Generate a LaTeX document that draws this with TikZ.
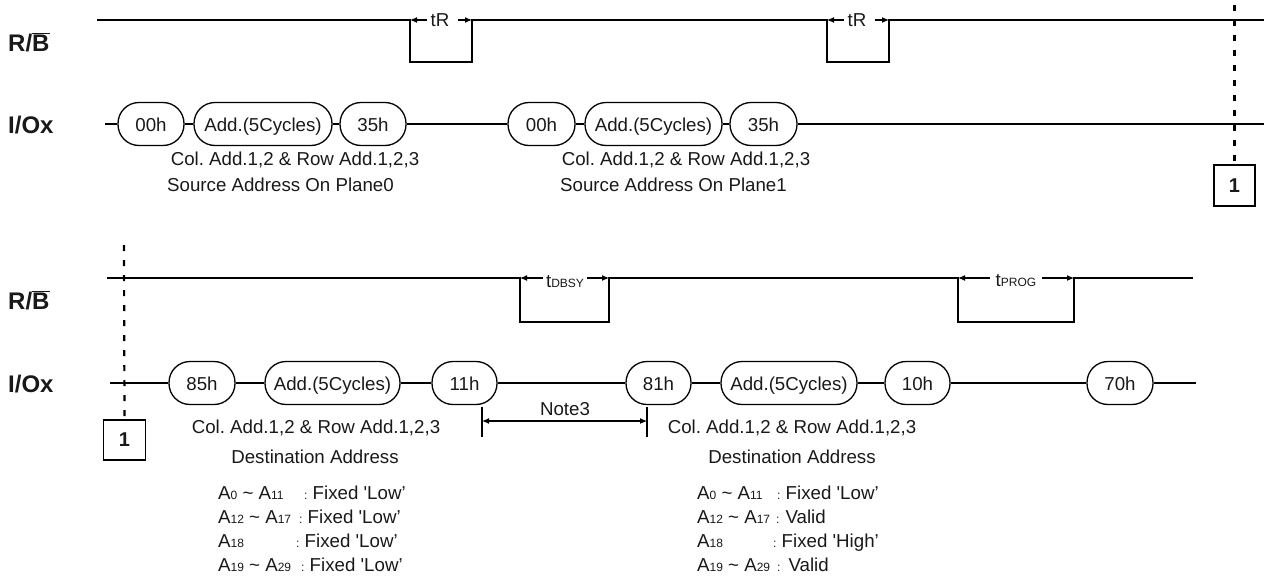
\documentclass[tikz,border=0pt]{standalone}
\usepackage{fontspec}
\setmainfont{Liberation Sans}
\usetikzlibrary{arrows.meta}
\newcommand\sbs[1]{{\fontsize{12}{12}\selectfont #1}}
\newcommand\sq{\textquotesingle}
\begin{document}
\frenchspacing
\begin{tikzpicture}[x=1pt,y=-1pt,
  every node/.style={font=\fontsize{18.7}{22}\selectfont, inner sep=0pt, text=black!90},
  oval/.style={draw, line width=1.3pt, rounded corners=21pt, minimum height=43pt, inner sep=0pt, text height=15pt, text depth=1pt},
  wire/.style={line width=1.3pt},
  sig/.style={font=\bfseries\fontsize{24}{26}\selectfont, anchor=west},
  tlbl/.style={inner xsep=3pt},
  tarrow/.style={line width=1.1pt, -{Latex[length=7pt,width=6pt]}},
  guide/.style={line width=2.2pt, dash pattern=on 6pt off 9pt},
  pagebox/.style={draw, line width=1.3pt, minimum width=41pt, minimum height=41pt, font=\bfseries\fontsize{20}{22}\selectfont},
  addr/.style={anchor=base west}
]
\useasboundingbox (0,0) rectangle (1264,581);

% ---------------- top section ----------------
\node[sig] (rb1) at (8,42) {R/$\overline{\mbox{B}}$};
\node[sig] (io1) at (8,125) {I/Ox};

% R/B waveform
\coordinate (t0) at (97,20);
\coordinate (t1) at (410,20);
\coordinate (t2) at (410,62);
\coordinate (t3) at (472,62);
\coordinate (t4) at (472,20);
\coordinate (t5) at (827,20);
\coordinate (t6) at (827,62);
\coordinate (t7) at (889,62);
\coordinate (t8) at (889,20);
\coordinate (t9) at (1264,20);
\draw[wire] (t0) -- (t1) -- (t2) -- (t3) -- (t4) -- (t5) -- (t6) -- (t7) -- (t8) -- (t9);

\node[tlbl] (tr1) at (440,20) {tR};
\draw[tarrow] (tr1.west) -- (t1);
\draw[tarrow] ([xshift=5pt]tr1.east) -- (t4);
\node[tlbl] (tr2) at (857,20) {tR};
\draw[tarrow] (tr2.west) -- (t5);
\draw[tarrow] ([xshift=5pt]tr2.east) -- (t8);

% I/O bus
\coordinate (ia) at (105,124);
\coordinate (ib) at (1264,124);
\node[oval, minimum width=66pt]  (o1) at (151,124)   {00h};
\node[oval, minimum width=138pt] (o2) at (263,124)   {Add.(5Cycles)};
\node[oval, minimum width=66pt]  (o3) at (373,124)   {35h};
\node[oval, minimum width=67pt]  (o4) at (541.5,124) {00h};
\node[oval, minimum width=137pt] (o5) at (653.5,124) {Add.(5Cycles)};
\node[oval, minimum width=67pt]  (o6) at (763.5,124) {35h};
\draw[wire] (ia) -- (o1.west);
\draw[wire] (o1.east) -- (o2.west);
\draw[wire] (o2.east) -- (o3.west);
\draw[wire] (o3.east) -- (o4.west);
\draw[wire] (o4.east) -- (o5.west);
\draw[wire] (o5.east) -- (o6.west);
\draw[wire] (o6.east) -- (ib);

\node (c1) at (295,160) {Col. Add.1,2 \& Row Add.1,2,3};
\node[anchor=west] (s1) at (167,185) {Source Address On Plane0};
\node (c2) at (686,160) {Col. Add.1,2 \& Row Add.1,2,3};
\node[anchor=west] (s2) at (560,185) {Source Address On Plane1};

% continuation marker
\coordinate (g1) at (1234.5,5);
\node[pagebox] (pb1) at (1234.5,185.5) {1};
\draw[guide] (g1) -- (pb1.north);

% ---------------- bottom section ----------------
\node[sig] (rb2) at (8,300) {R/$\overline{\mbox{B}}$};
\node[sig] (io2) at (8,384) {I/Ox};

\coordinate (b0) at (107,278);
\coordinate (b1) at (520,278);
\coordinate (b2) at (520,322);
\coordinate (b3) at (609,322);
\coordinate (b4) at (609,278);
\coordinate (b5) at (958,278);
\coordinate (b6) at (958,322);
\coordinate (b7) at (1074,322);
\coordinate (b8) at (1074,278);
\coordinate (b9) at (1193,278);
\draw[wire] (b0) -- (b1) -- (b2) -- (b3) -- (b4) -- (b5) -- (b6) -- (b7) -- (b8) -- (b9);

\node[tlbl] (tdb) at (565,282) {t\sbs{DBSY}};
\draw[tarrow] (tdb.west |- b1) -- (b1);
\draw[tarrow] (tdb.east |- b4) -- (b4);
\node[tlbl] (tpg) at (1016,281) {t\sbs{PROG}};
\draw[tarrow] ([xshift=-3pt]tpg.west |- b5) -- (b5);
\draw[tarrow] ([xshift=3pt]tpg.east |- b8) -- (b8);

\coordinate (ja) at (110,383);
\coordinate (jb) at (1196,383);
\node[oval, minimum width=66pt]  (p1) at (202,383)   {85h};
\node[oval, minimum width=135pt] (p2) at (332.5,383) {Add.(5Cycles)};
\node[oval, minimum width=65pt]  (p3) at (464.5,383) {11h};
\node[oval, minimum width=65pt]  (p4) at (658.5,383) {81h};
\node[oval, minimum width=136pt] (p5) at (789,383)   {Add.(5Cycles)};
\node[oval, minimum width=65pt]  (p6) at (917.5,383) {10h};
\node[oval, minimum width=66pt]  (p7) at (1120,383)  {70h};
\draw[wire] (ja) -- (p1.west);
\draw[wire] (p1.east) -- (p2.west);
\draw[wire] (p2.east) -- (p3.west);
\draw[wire] (p3.east) -- (p4.west);
\draw[wire] (p4.east) -- (p5.west);
\draw[wire] (p5.east) -- (p6.west);
\draw[wire] (p6.east) -- (p7.west);
\draw[wire] (p7.east) -- (jb);

% continuation marker
\coordinate (g2) at (124,245);
\node[pagebox, minimum width=42pt, minimum height=40pt] (pb2) at (124.5,440) {1};
\draw[guide] (g2) -- (pb2.north);

% Note3
\coordinate (na1) at (482,407);
\coordinate (na2) at (482,437);
\coordinate (nb1) at (647,407);
\coordinate (nb2) at (647,437);
\coordinate (nm1) at (482,421);
\coordinate (nm2) at (647,421);
\draw[wire] (na1) -- (na2);
\draw[wire] (nb1) -- (nb2);
\draw[line width=1.1pt, {Latex[length=7pt,width=6pt]}-{Latex[length=7pt,width=6pt]}] (nm1) -- (nm2);
\node (n3) at (565,409) {Note3};

% destination texts
\node (d1) at (316,428) {Col. Add.1,2 \& Row Add.1,2,3};
\node (d2) at (315,457) {Destination Address};
\node (e1) at (792,428) {Col. Add.1,2 \& Row Add.1,2,3};
\node (e2) at (792,457) {Destination Address};

% address tables (left)
\node[addr] (la1) at (218,499) {A\sbs{0} \textasciitilde{} A\sbs{11}};
\node[addr] (lb1) at (304,499) {\sbs{:} Fixed \sq Low'};
\node[addr] (la2) at (218,523) {A\sbs{12} \textasciitilde{} A\sbs{17}};
\node[addr] (lb2) at (299,523) {\sbs{:} Fixed \sq Low'};
\node[addr] (la3) at (218,547) {A\sbs{18}};
\node[addr] (lb3) at (296,547) {\sbs{:} Fixed \sq Low'};
\node[addr] (la4) at (218,571) {A\sbs{19} \textasciitilde{} A\sbs{29}};
\node[addr] (lb4) at (301,571) {\sbs{:} Fixed \sq Low'};

% address tables (right)
\node[addr] (ra1) at (697,499) {A\sbs{0} \textasciitilde{} A\sbs{11}};
\node[addr] (rb1x) at (777,499) {\sbs{:} Fixed \sq Low'};
\node[addr] (ra2) at (697,523) {A\sbs{12} \textasciitilde{} A\sbs{17}};
\node[addr] (rb2x) at (776,523) {\sbs{:}\hspace{6pt}Valid};
\node[addr] (ra3) at (697,547) {A\sbs{18}};
\node[addr] (rb3x) at (773,547) {\sbs{:} Fixed \sq High'};
\node[addr] (ra4) at (697,571) {A\sbs{19} \textasciitilde{} A\sbs{29}};
\node[addr] (rb4x) at (777,571) {\sbs{:}\hspace{8pt}Valid};
\end{tikzpicture}
\end{document}
